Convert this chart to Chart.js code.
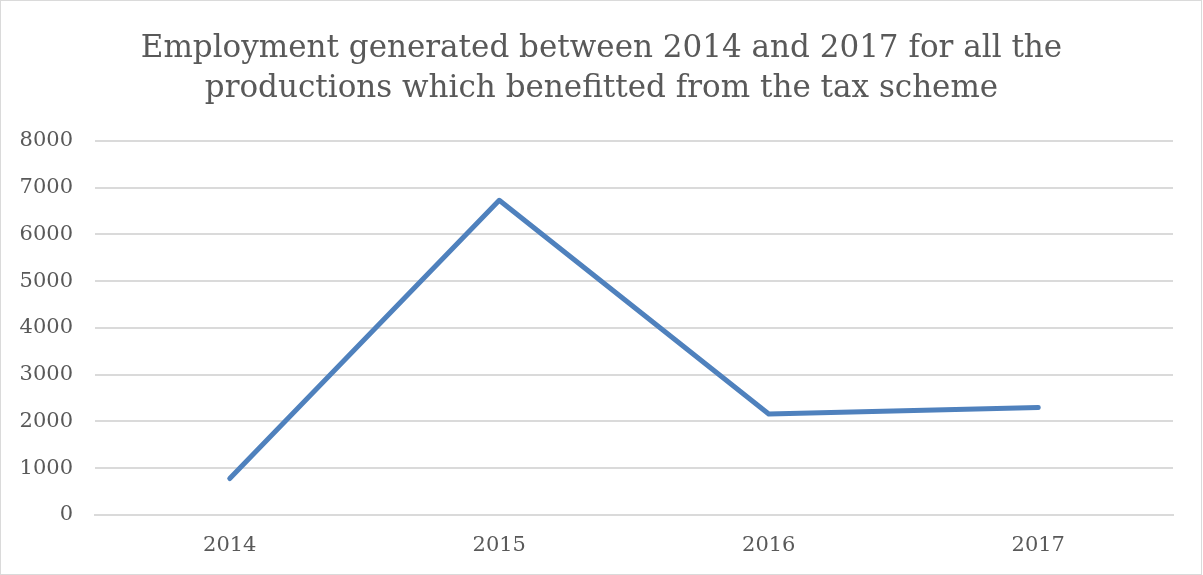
<!DOCTYPE html>
<html>
<head>
<meta charset="utf-8">
<script src="https://cdn.jsdelivr.net/npm/chart.js@4.4.1/dist/chart.umd.min.js"></script>
<style>
    html, body { margin: 0; padding: 0; background: #fff; }
    #wrap { width: 1203px; height: 575px; }
</style>
</head>
<body>
<div id="wrap"><canvas id="employmentChart" width="1203" height="575"></canvas></div>
<script>
const years = ['2014', '2015', '2016', '2017'];
const employment = [780, 6730, 2160, 2300];
const titleLines = [
    'Employment generated between 2014 and 2017 for all the',
    'productions which benefitted from the tax scheme'
];

const textColor = '#595959';
const gridColor = '#dadada';
const fontFamily = '"DejaVu Serif", "Liberation Serif", serif';

// white background + thin frame around the whole chart
const framePlugin = {
    id: 'frame',
    beforeDraw(chart) {
        const ctx = chart.ctx;
        ctx.save();
        ctx.fillStyle = '#fff';
        ctx.fillRect(0, 0, chart.width, chart.height);
        ctx.strokeStyle = gridColor;
        ctx.lineWidth = 1;
        ctx.strokeRect(0.5, 0.5, chart.width - 2, chart.height - 1);
        ctx.restore();
    }
};

const ctx = document.getElementById('employmentChart').getContext('2d');

new Chart(ctx, {
    type: 'line',
    data: {
        labels: years,
        datasets: [{
            label: 'Employment',
            data: employment,
            borderColor: '#4f81bd',
            borderWidth: 5,
            borderCapStyle: 'round',
            borderJoinStyle: 'round',
            pointRadius: 0,
            tension: 0,
            fill: false
        }]
    },
    options: {
        responsive: false,
        animation: false,
        layout: {
            padding: 0
        },
        plugins: {
            legend: { display: false },
            tooltip: { enabled: false },
            title: {
                display: true,
                text: titleLines,
                color: textColor,
                font: { family: fontFamily, size: 31, weight: 'normal', lineHeight: 1.32 },
                padding: { top: 28, bottom: 31 }
            }
        },
        scales: {
            x: {
                offset: true,
                grid: { display: false, drawTicks: false },
                border: { display: true, color: gridColor, width: 2 },
                ticks: {
                    color: textColor,
                    font: { family: fontFamily, size: 21 },
                    padding: 18,
                    maxRotation: 0
                },
                afterFit(scale) { scale.height = 60; }
            },
            y: {
                min: 0,
                max: 8000,
                ticks: {
                    stepSize: 1000,
                    color: textColor,
                    font: { family: fontFamily, size: 21 },
                    padding: 22,
                    callback: (value) => String(value)
                },
                grid: { color: gridColor, lineWidth: 2, drawTicks: false },
                border: { display: false },
                afterFit(scale) { scale.width = 95; }
            },
            // empty right-hand spacer so the plot ends where the reference does
            spacer: {
                position: 'right',
                min: 0,
                max: 8000,
                grid: { display: false, drawTicks: false },
                border: { display: false },
                ticks: { display: false },
                afterFit(scale) { scale.width = 30; }
            }
        }
    },
    plugins: [framePlugin]
});
</script>
</body>
</html>
